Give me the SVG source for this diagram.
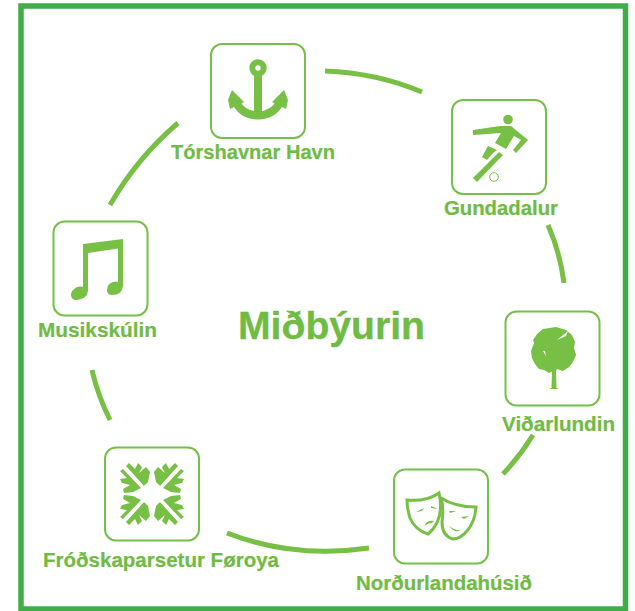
<svg xmlns="http://www.w3.org/2000/svg" width="635" height="611" viewBox="0 0 635 611">
<style>
.box{fill:#fff;stroke:#77bf4b;stroke-width:2}
.ic{fill:#77bf45}
.ln{fill:none;stroke:#77bf45}
.lb{font-family:"Liberation Sans",Arial,sans-serif;font-weight:700;font-size:20px;fill:#6fbb44;stroke:#6fbb44;stroke-width:.2}
.c{fill:none;stroke:#77bf45;stroke-width:5}
</style>
<rect width="635" height="611" fill="#fff"/>
<rect id="frame" x="21" y="6" width="604.500" height="603" fill="none" stroke="#3fae49" stroke-width="5.500"/>
<g id="connectors">
<path class="c" d="M325 71Q377 73 422 92"/>
<path class="c" d="M548 225Q560 252 564 283"/>
<path class="c" d="M533 435Q520 456 503 474"/>
<path class="c" d="M369 548Q294 559 227 533"/>
<path class="c" d="M110 420Q98 396 92 370"/>
<path class="c" d="M110 205Q137 158 178 123"/>
</g>
<g id="torshavnar-havn">
<rect class="box" x="211" y="44" width="94" height="94" rx="11"/>
<circle cx="258" cy="68" r="5.700" fill="none" stroke="#77bf45" stroke-width="6"/>
<rect class="ic" x="254" y="75" width="8" height="43"/>
<path class="ln" stroke-width="8" d="M236 102Q242 115 258 115.500Q274 115 280 102"/>
<path class="ic" d="M232 90L244 102L230 109L228 100Z"/>
<path class="ic" d="M284 90L272 102L286 109L288 100Z"/>
<text class="lb" x="171" y="159" textLength="164" lengthAdjust="spacingAndGlyphs">Tórshavnar Havn</text>
</g>
<g id="gundadalur">
<rect class="box" x="452" y="100" width="94" height="94" rx="11"/>
<circle class="ic" cx="508" cy="119.500" r="4.800"/>
<path class="ic" d="M473 130L500 126L511 126L528 140L516 153L513 150L521 140L514 136L506 149L495 143L501 133L473 135Z"/>
<path class="ic" d="M488 146L497 150L493 153L487 160L482 157Z"/>
<path class="ic" d="M499 152L503 155L477 182L473 178Z"/>
<circle cx="494" cy="177" r="4.300" fill="#fff" stroke="#77bf45" stroke-width="1"/>
<text class="lb" x="444" y="215" textLength="114" lengthAdjust="spacingAndGlyphs">Gundadalur</text>
</g>
<g id="vidarlundin">
<rect class="box" x="505.500" y="311.500" width="94" height="94" rx="11"/>
<path class="ic" d="M543 329L556 327L566 330L572 335L575 342L574 348L576 355L573 362L569 367L563 371L557 369L555 373L553 371L549 373L544 370L539 369L535 364L532 358L531 351L534 343L533 340L537 334Z"/>
<path d="M568 331L557 340L566 336Z" fill="#fff"/>
<path d="M543 351L546 356L545 351Z" fill="#fff"/>
<path class="ic" d="M552 370L556 370L556.500 388L559 389L549 389L551.500 388Z"/>
<text class="lb" x="502" y="431" textLength="113" lengthAdjust="spacingAndGlyphs">Viðarlundin</text>
</g>
<g id="nordurlandahusid">
<rect class="box" x="394" y="469.500" width="94" height="94" rx="11"/>
<path fill="#fff" stroke="#77bf45" stroke-width="3" d="M407 500Q426 502 439 493Q445 520 428 534Q415 530 410 518Q407 508 407 500Z"/>
<path fill="#fff" stroke="#77bf45" stroke-width="3" d="M441 498Q455 507 476 507Q475 522 467 531Q460 539 453 539Q442 536 442 522Q444 508 441 498Z"/>
<path class="ic" d="M416 512L424 508L422 511ZM431 506L438 509L431 508ZM424 526Q427 520 434 521L432 523Q428 523 424 526ZM449 511L456 511L450 513ZM461 517L469 516L464 519ZM449 526Q455 531 461 530Q455 534 449 526Z"/>
<text class="lb" x="356" y="590" textLength="176" lengthAdjust="spacingAndGlyphs">Norðurlandahúsið</text>
</g>
<g id="frodskaparsetur-foroya">
<rect class="box" x="105" y="447.500" width="94" height="93" rx="11"/>
<path id="flake" class="ic" d="M126 466L129 463L135 469L138 463L142 467L139 473L146 467L150 472L148 482L144 486ZM120 471L123 469L141 488L133 492L124 493L123 489L130 485L122 483L120 479L127 478Z"/>
<use href="#flake" transform="matrix(-1 0 0 1 304 0)"/>
<use href="#flake" transform="matrix(1 0 0 -1 0 988)"/>
<use href="#flake" transform="matrix(-1 0 0 -1 304 988)"/>
<text class="lb" x="43" y="567" textLength="236" lengthAdjust="spacingAndGlyphs">Fróðskaparsetur Føroya</text>
</g>
<g id="musikskulin">
<rect class="box" x="53.500" y="221.500" width="94" height="94" rx="11"/>
<path class="ic" d="M83 244L123 239L123 286Q122 295 112 295Q107 295 107 290Q107 284 113 282Q116 281 118 282L118 248.500L88 253L88 291Q87 299 77 300Q71 300 71 295Q71 290 77 287Q80 286 83 287Z"/>
<text class="lb" x="38" y="337" textLength="119" lengthAdjust="spacingAndGlyphs">Musikskúlin</text>
</g>
<g id="center">
<text x="238" y="339" textLength="187" lengthAdjust="spacingAndGlyphs" style="font-family:'Liberation Sans',Arial,sans-serif;font-weight:700;font-size:38px;fill:#6fbb44;stroke:#6fbb44;stroke-width:.3">Miðbýurin</text>
</g>
</svg>
